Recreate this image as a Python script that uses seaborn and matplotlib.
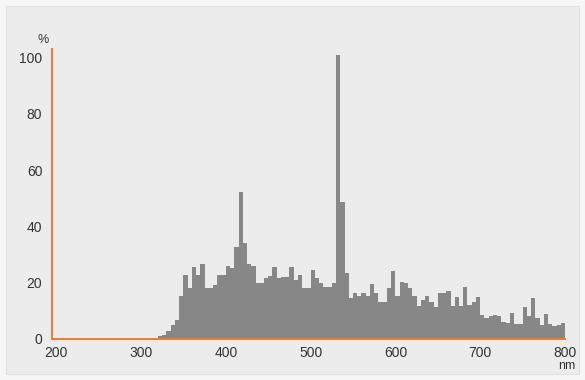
import numpy as np
import pandas as pd
import seaborn as sns
import matplotlib.pyplot as plt
from matplotlib.patches import Rectangle

# --- Data: relative spectral power, 5 nm bins starting at 320 nm ---
bin_start = np.arange(320, 800, 5)
relative_power = [
    0.9, 1.5, 2.7, 5.1, 6.8, 15.1, 22.8, 18.1, 25.7, 22.8,      # 320-365
    26.6, 18.1, 18.1, 19.3, 22.8, 22.8, 26.1, 25.2, 32.8, 52.3,  # 370-415
    34.0, 26.6, 26.1, 19.9, 19.9, 21.6, 22.2, 25.5, 21.6, 22.0,  # 420-465
    22.0, 25.5, 21.0, 22.8, 18.1, 18.1, 24.6, 21.6, 20.0, 18.4,  # 470-515
    18.4, 19.9, 101.0, 48.5, 23.4, 14.5, 16.5, 15.4, 16.3, 15.4,  # 520-565
    19.5, 16.3, 13.0, 13.3, 18.1, 24.0, 15.4, 20.4, 19.9, 18.1,  # 570-615
    15.1, 11.6, 13.9, 15.1, 13.3, 11.2, 16.3, 16.3, 17.2, 11.6,  # 620-665
    14.8, 11.6, 18.4, 12.2, 13.0, 14.8, 8.6, 7.4, 8.0, 8.5,      # 670-715
    8.0, 5.9, 5.7, 9.2, 5.5, 5.3, 11.2, 8.0, 14.5, 7.4,          # 720-765
    5.1, 8.9, 5.5, 4.7, 5.1, 5.7,                                # 770-795
]
x_ticks = [200, 300, 400, 500, 600, 700, 800]
y_ticks = [0, 20, 40, 60, 80, 100]

df = pd.DataFrame({'nm': bin_start + 2.5, 'power': relative_power})

# --- Plotting ---
sns.set_style('white')
plt.rcParams['font.family'] = ['Liberation Sans', 'DejaVu Sans']

fig = plt.figure(figsize=(5.85, 3.8), dpi=100, facecolor='#f6f6f6')
# inner grey panel behind the chart
fig.patches.append(Rectangle((6 / 585, 6 / 380), 573 / 585, 368 / 380,
                             transform=fig.transFigure, facecolor='#ececec',
                             edgecolor='#e0e0e0', linewidth=0.8, zorder=-10))
ax = fig.add_axes([52 / 585, 41 / 380, 513 / 585, 290 / 380])
ax.set_facecolor('none')
ax.set_zorder(5)

sns.histplot(data=df, x='nm', weights='power', binwidth=5, binrange=(320, 800),
             element='step', fill=True, color='#878787', alpha=1,
             linewidth=0, ax=ax)

ax.set_xlim(195, 800)
ax.set_ylim(0, 103)
ax.set_xticks(x_ticks)
ax.set_yticks(y_ticks)
ax.set_xlabel('')
ax.set_ylabel('')
ax.tick_params(length=0, labelsize=10, labelcolor='#333333')
ax.tick_params(axis='y', pad=7)
ax.tick_params(axis='x', pad=5)

for side in ['top', 'right']:
    ax.spines[side].set_visible(False)
for side in ['left', 'bottom']:
    ax.spines[side].set_color('#ee7a3a')
    ax.spines[side].set_linewidth(1.4)

fig.text(37 / 585, 1 - 40 / 380, '%', fontsize=9, color='#333333',
         ha='left', va='center')
fig.text(575 / 585, 1 - 366 / 380, 'nm', fontsize=9, color='#333333',
         ha='right', va='center')

plt.savefig('out.png', dpi=100, facecolor=fig.get_facecolor())
